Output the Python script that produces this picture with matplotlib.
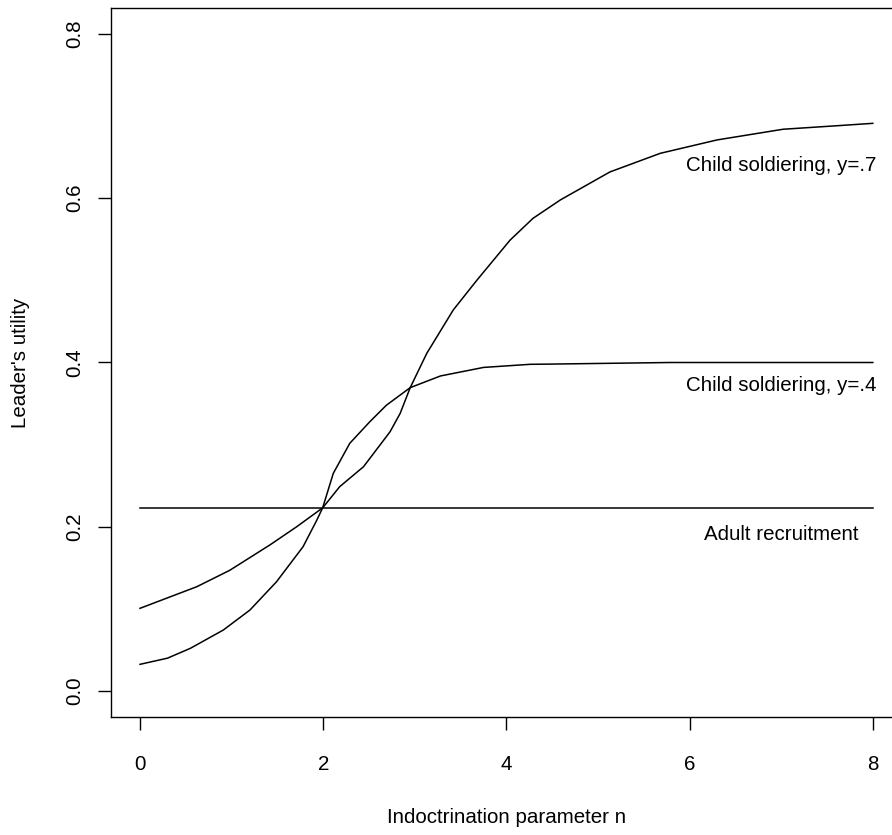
import matplotlib
matplotlib.use("Agg")
import matplotlib.pyplot as plt

plt.rcParams['font.family'] = ['Liberation Sans', 'DejaVu Sans']

# Adult recruitment (flat)
n_adult = [0, 8]
u_adult = [0.223, 0.223]

# Child soldiering, y=.4
n_y4 = [0.0, 0.29, 0.62, 0.98, 1.42, 1.71, 1.994, 2.11, 2.29, 2.51, 2.69, 2.95,
        3.28, 3.75, 4.26, 4.44, 5.79, 8.0]
u_y4 = [0.1007, 0.113, 0.127, 0.147, 0.178, 0.200, 0.223, 0.265, 0.3016, 0.328,
        0.348, 0.3694, 0.3836, 0.394, 0.3978, 0.398, 0.400, 0.400]

# Child soldiering, y=.7
n_y7 = [0.0, 0.30, 0.55, 0.91, 1.2, 1.49, 1.78, 1.93, 1.994, 2.18, 2.44, 2.73,
        2.84, 2.95, 3.13, 3.42, 3.68, 4.04, 4.29, 4.59, 5.13, 5.68, 6.30, 7.02,
        7.57, 8.0]
u_y7 = [0.0325, 0.040, 0.052, 0.0743, 0.0986, 0.133, 0.1757, 0.208, 0.223,
        0.2488, 0.2731, 0.3157, 0.338, 0.3694, 0.411, 0.464, 0.5005, 0.549,
        0.5755, 0.598, 0.632, 0.6547, 0.671, 0.684, 0.688, 0.6912]

labels = ["Child soldiering, y=.7", "Child soldiering, y=.4", "Adult recruitment"]
label_n = [7, 7, 7]
label_u = [0.640, 0.3725, 0.190]

x_ticks = [0, 2, 4, 6, 8]
y_ticks = [0.0, 0.2, 0.4, 0.6, 0.8]
y_ticklabels = ["0.0", "0.2", "0.4", "0.6", "0.8"]

W, H = 892, 835
fig = plt.figure(figsize=(W / 100, H / 100), dpi=100)
left, right, top, bottom = 110.7, 902.1, 7.7, 717.3
ax = fig.add_axes([left / W, (H - bottom) / H, (right - left) / W, (bottom - top) / H])

lw = 1.1
ax.plot(n_adult, u_adult, color='black', lw=lw)
ax.plot(n_y4, u_y4, color='black', lw=lw)
ax.plot(n_y7, u_y7, color='black', lw=lw)

fs = 14.8
for t, xn, yu in zip(labels, label_n, label_u):
    ax.text(xn, yu, t, ha='center', va='center', fontsize=fs)

ax.set_xlim(-0.32, 8.32)
ax.set_ylim(-0.032, 0.832)
ax.set_xticks(x_ticks)
ax.set_xticklabels([str(v) for v in x_ticks])
ax.set_yticks(y_ticks)
ax.set_yticklabels(y_ticklabels, rotation=90, va='center')

ax.tick_params(axis='both', direction='out', length=9.4, width=1.0, labelsize=fs, color='black')
ax.tick_params(axis='x', pad=18)
ax.tick_params(axis='y', pad=9.4)
for s in ax.spines.values():
    s.set_linewidth(1.0)

ax.set_xlabel("Indoctrination parameter n", fontsize=fs, va='center')
ax.xaxis.set_label_coords(0.5, -0.1419)
ax.set_ylabel("Leader's utility", fontsize=fs, va='center')
ax.yaxis.set_label_coords(-0.1146, 0.5)

fig.savefig("out.png", dpi=100)
